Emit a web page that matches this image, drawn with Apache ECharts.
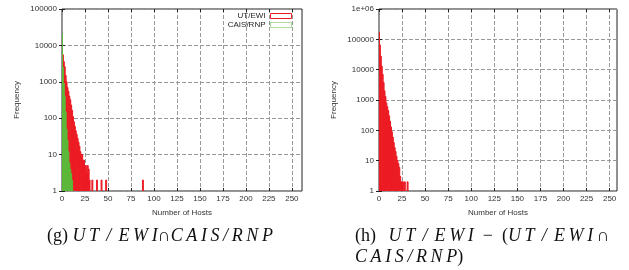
<!DOCTYPE html>
<html>
<head>
<meta charset="utf-8">
<script src="https://cdn.jsdelivr.net/npm/echarts@6/dist/echarts.min.js"></script>
<style>
  body { margin: 0; background: #fff; }
  #chart { width: 629px; height: 270px; }
</style>
</head>
<body>
<div id="chart"></div>
<script>
  // (g) UT/EWI and CAIS/RNP histograms, number of hosts -> frequency
  const hostsG = [0, 1, 2, 3, 4, 5, 6, 7, 8, 9, 10, 11, 12, 13, 14, 15, 16, 17, 18, 19, 20,
    21, 22, 23, 24, 25, 26, 27, 28, 29, 30, 33, 38, 43, 48, 88];
  const utEwiG = [9000, 5500, 3600, 2600, 1500, 1000, 700, 550, 400, 320, 230, 165, 110, 80, 60, 45, 36, 28, 22, 17, 12,
    10, 10, 7, 7, 4, 5, 3, 5, 4, 2, 2, 2, 2, 2, 2];
  const hostsCais = [0, 1, 2, 3, 4, 5, 6, 7, 8, 9, 10, 11, 12];
  const caisRnp = [20000, 2500, 900, 400, 150, 50, 25, 12, 6, 4, 3, 2, 1];

  // (h) UT/EWI minus the intersection
  const hostsH = [0, 1, 2, 3, 4, 5, 6, 7, 8, 9, 10, 11, 12, 13, 14, 15, 16, 17, 18, 19, 20,
    21, 22, 23, 24, 25, 26, 28, 31];
  const utOnly = [170000, 65000, 28000, 13000, 7000, 3800, 2000, 1300, 800, 600, 450, 300, 200, 130, 90, 60, 40, 27, 20, 14, 10,
    8, 6, 3, 2, 2, 2, 2, 2];

  const xTicks = [0, 25, 50, 75, 100, 125, 150, 175, 200, 225, 250];

  const RED = '#ec1c24';
  const GREEN = '#5cb83a';
  const labelFont = { fontSize: 8, fontFamily: 'Liberation Sans', color: '#333' };
  const TS = '\u2009'; // thin space
  const EN = '\u2002'; // en space

  function pairs(xs, ys) {
    return xs.map((x, i) => [x, ys[i]]);
  }

  // math-style spacing for the italic captions
  function spaced(s, wideSlash) {
    const t = s.split('').join(TS);
    return wideSlash ? t.replace('/', TS + '/' + TS) : t;
  }

  function boxes(color) {
    return function (params, api) {
      const x = api.value(0);
      const v = api.value(1);
      const p0 = api.coord([x - 0.5, v]);
      const p1 = api.coord([x + 0.5, 1]);
      return {
        type: 'rect',
        shape: { x: p0[0], y: p0[1], width: p1[0] - p0[0], height: p1[1] - p0[1] },
        style: { fill: color, stroke: color, lineWidth: 1 },
      };
    };
  }

  function xAxisFor(gridIndex, max, mirror) {
    return {
      type: 'value', gridIndex, min: 0, max, interval: 25,
      position: mirror ? 'top' : 'bottom',
      name: mirror ? '' : 'Number of Hosts',
      nameLocation: 'middle', nameGap: 18,
      nameTextStyle: labelFont,
      axisLine: { show: false },
      axisTick: { show: true, inside: true, length: 3, lineStyle: { color: '#222' }, customValues: xTicks },
      axisLabel: { show: !mirror, ...labelFont, margin: 4, customValues: xTicks },
      splitLine: { show: !mirror, lineStyle: { color: '#999', type: [4, 2], width: 1 } },
    };
  }

  function yAxisFor(gridIndex, max, mirror) {
    return {
      type: 'log', logBase: 10, gridIndex, min: 1, max,
      position: mirror ? 'right' : 'left',
      name: mirror ? '' : 'Frequency',
      nameLocation: 'middle', nameGap: 41, nameRotate: 90,
      nameTextStyle: labelFont,
      axisLine: { show: false },
      axisTick: { show: true, inside: true, length: 3, lineStyle: { color: '#222' } },
      axisLabel: { show: !mirror, ...labelFont, margin: 5,
        formatter: (v) => (v >= 1e6 ? '1e+06' : String(Math.round(v))) },
      splitLine: { show: !mirror, lineStyle: { color: '#999', type: [4, 2], width: 1 } },
    };
  }

  const chart = echarts.init(document.getElementById('chart'), null, { renderer: 'canvas' });

  const capFont = { fontSize: 18, lineHeight: 21, fontFamily: 'Liberation Serif', fill: '#111' };
  const capRich = {
    n: { ...capFont },
    m: { ...capFont, fontStyle: 'italic' },
    o: { ...capFont },
  };

  const option = {
    animation: false,
    backgroundColor: '#fff',
    grid: [
      { left: 62, top: 9, width: 240, height: 182, show: true, borderColor: '#222', borderWidth: 1, backgroundColor: 'transparent' },
      { left: 379, top: 9, width: 238, height: 182, show: true, borderColor: '#222', borderWidth: 1, backgroundColor: 'transparent' },
    ],
    legend: {
      orient: 'vertical', right: 332, top: 7, align: 'right',
      itemWidth: 21, itemHeight: 5, itemGap: 1,
      textStyle: { fontSize: 8, fontFamily: 'Liberation Sans', color: '#222' },
      data: [
        { name: 'UT/EWI', icon: 'rect', itemStyle: { color: '#fff', borderColor: RED, borderWidth: 1 } },
        { name: 'CAIS/RNP', icon: 'rect', itemStyle: { color: '#fff', borderColor: GREEN, borderWidth: 1, borderType: 'dotted' } },
      ],
    },
    xAxis: [xAxisFor(0, 261, false), xAxisFor(1, 258, false), xAxisFor(0, 261, true), xAxisFor(1, 258, true)],
    yAxis: [yAxisFor(0, 100000, false), yAxisFor(1, 1000000, false), yAxisFor(0, 100000, true), yAxisFor(1, 1000000, true)],
    series: [
      {
        name: 'UT/EWI', type: 'custom', xAxisIndex: 0, yAxisIndex: 0, clip: true,
        itemStyle: { color: RED }, renderItem: boxes(RED),
        encode: { x: 0, y: 1 }, data: pairs(hostsG, utEwiG),
      },
      {
        name: 'CAIS/RNP', type: 'custom', xAxisIndex: 0, yAxisIndex: 0, clip: true,
        itemStyle: { color: GREEN }, renderItem: boxes(GREEN),
        encode: { x: 0, y: 1 }, data: pairs(hostsCais, caisRnp),
      },
      {
        name: 'UT/EWI - (UT/EWI ∩ CAIS/RNP)', type: 'custom', xAxisIndex: 1, yAxisIndex: 1, clip: true,
        itemStyle: { color: RED }, renderItem: boxes(RED),
        encode: { x: 0, y: 1 }, data: pairs(hostsH, utOnly),
      },
    ],
    graphic: [
      {
        type: 'text', left: 47, top: 227,
        style: {
          text: '{n|(g) }{m|' + spaced('UT/EWI', true) + '}{o|∩}{m|' + spaced('CAIS/RNP', false) + '}',
          rich: capRich,
        },
      },
      {
        type: 'text', left: 355, top: 227,
        style: {
          text: '{n|(h)' + EN + TS + '}{m|' + spaced('UT/EWI', true) + '}{o|' + EN + '−' + EN + '(}{m|' +
            spaced('UT/EWI', true) + '}{o|' + TS + '∩}\n' +
            '{m|' + spaced('CAIS/RNP', false) + '}{o|)}',
          rich: capRich,
        },
      },
    ],
  };

  chart.setOption(option);
</script>
</body>
</html>
